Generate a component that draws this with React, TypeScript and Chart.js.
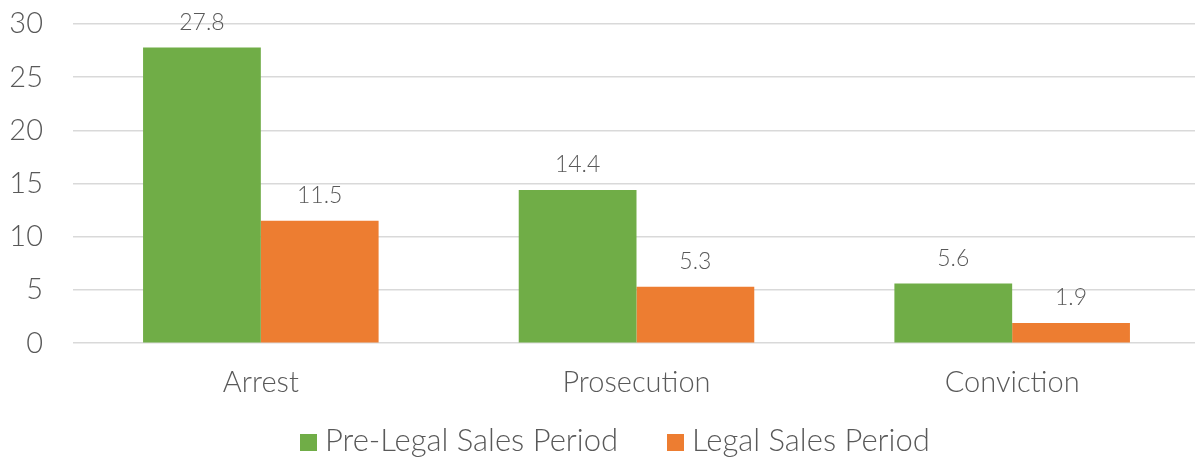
import React, { useEffect, useRef } from "react";
import { Chart, registerables } from "chart.js";

Chart.register(...registerables);

const categories = ["Arrest", "Prosecution", "Conviction"];
const preLegal = [27.8, 14.4, 5.6];
const legal = [11.5, 5.3, 1.9];
const seriesNames = ["Pre-Legal Sales Period", "Legal Sales Period"];
const seriesColors = ["#70AD47", "#ED7D31"];
const yTicks = [0, 5, 10, 15, 20, 25, 30];

const FONT = "Lato, 'Noto Sans', sans-serif";
const TEXT = "#595959";

const valueLabels = {
  id: "valueLabels",
  afterDatasetsDraw(chart: any) {
    const ctx = chart.ctx;
    ctx.save();
    ctx.font = `300 23px ${FONT}`;
    ctx.fillStyle = TEXT;
    ctx.textAlign = "center";
    ctx.textBaseline = "middle";
    chart.data.datasets.forEach((ds: any, i: number) => {
      const meta = chart.getDatasetMeta(i);
      meta.data.forEach((bar: any, j: number) => {
        ctx.fillText(String(ds.data[j]), bar.x, bar.y - 25);
      });
    });
    ctx.restore();
  },
};

export default function App() {
  const ref = useRef<HTMLCanvasElement | null>(null);
  useEffect(() => {
    if (!ref.current) return;
    const chart = new Chart(ref.current, {
      type: "bar",
      data: {
        labels: categories,
        datasets: [
          { label: seriesNames[0], data: preLegal, backgroundColor: seriesColors[0], barPercentage: 1, categoryPercentage: 0.627 },
          { label: seriesNames[1], data: legal, backgroundColor: seriesColors[1], barPercentage: 1, categoryPercentage: 0.627 },
        ],
      },
      options: {
        animation: false,
        responsive: false,
        maintainAspectRatio: false,
        layout: { padding: { top: 24, right: 0, bottom: 38, left: 0 } },
        plugins: {
          tooltip: { enabled: false },
          legend: { display: false },
        },
        scales: {
          x: {
            grid: { display: false, drawTicks: false },
            border: { display: false },
            ticks: { color: TEXT, font: { family: FONT, size: 29, weight: "300" as any, lineHeight: 1.2 }, padding: 22 },
          },
          y: {
            min: 0,
            max: 30,
            afterBuildTicks: (s: any) => { s.ticks = yTicks.map((v) => ({ value: v })); },
            afterFit: (s: any) => {
              s.width = 73;
              s.paddingTop = 0;
              s.paddingBottom = 0;
            },
            grid: { color: "#D9D9D9", lineWidth: 1.5, drawTicks: false },
            border: { display: false },
            ticks: { color: TEXT, font: { family: FONT, size: 29, weight: "300" as any, lineHeight: 1 }, padding: 30 },
          },
        },
      },
      plugins: [valueLabels],
    });
    return () => chart.destroy();
  }, []);
  return (
    <div style={{ position: "fixed", left: 0, top: 0, width: 1195, height: 460, overflow: "hidden", background: "#fff" }}>
      <canvas ref={ref} width={1200} height={460} style={{ width: 1200, height: 460, display: "block" }} />
      <div
        style={{
          position: "absolute",
          left: 300,
          top: 424,
          whiteSpace: "nowrap",
          fontFamily: FONT,
          fontWeight: 300,
          fontSize: 31,
          color: TEXT,
          lineHeight: "31px",
        }}
      >
        {seriesNames.map((name, i) => (
          <span key={name} style={{ display: "inline-block", marginLeft: i === 0 ? 0 : 49 }}>
            <span style={{ display: "inline-block", width: 17, height: 17, background: seriesColors[i], marginRight: 8, verticalAlign: "baseline" }} />
            <span>{name}</span>
          </span>
        ))}
      </div>
    </div>
  );
}
